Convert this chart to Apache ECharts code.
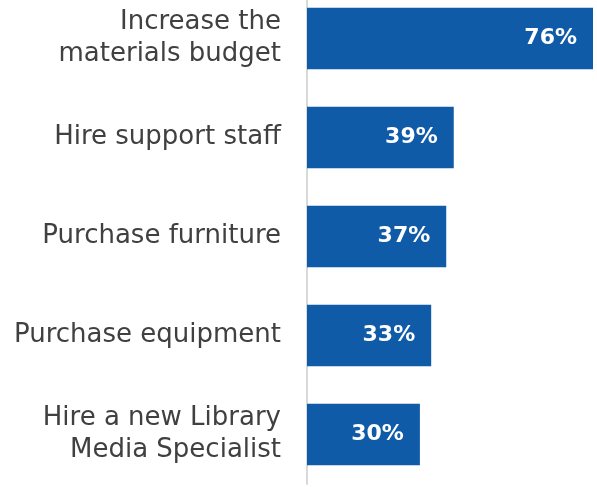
<!DOCTYPE html>
<html>
<head>
<meta charset="utf-8">
<script src="https://cdn.jsdelivr.net/npm/echarts@6/dist/echarts.min.js"></script>
<style>
  html, body { margin: 0; padding: 0; background: #fff; overflow: hidden; }
  /* the plot runs a little past the top edge, so shift the canvas up */
  #chart { position: absolute; left: 0; top: -11px; width: 597px; height: 498px; }
</style>
</head>
<body>
<div id="chart"></div>
<script>
// data
const categories = [
  'Increase the\nmaterials budget',
  'Hire support staff',
  'Purchase furniture',
  'Purchase equipment',
  'Hire a new Library\nMedia Specialist'
]
const values = [76, 39, 37, 33, 30]

const chart = echarts.init(document.getElementById('chart'))

const option = {
  animation: false,
  grid: {
    left: 307,
    right: 4,
    top: 0,
    bottom: 3
  },
  xAxis: {
    type: 'value',
    min: 0,
    max: 76,
    show: false
  },
  yAxis: {
    type: 'category',
    inverse: true,
    data: categories,
    axisLine: {
      show: true,
      lineStyle: { color: '#d9d9d9', width: 2 }
    },
    axisTick: { show: false },
    axisLabel: {
      margin: 26,
      color: '#404040',
      fontFamily: 'DejaVu Sans',
      fontSize: 26,
      lineHeight: 32,
      align: 'right'
    }
  },
  series: [{
    type: 'bar',
    data: values,
    barCategoryGap: '38%',
    itemStyle: { color: '#105ba7' },
    label: {
      show: true,
      position: 'insideRight',
      distance: 16,
      formatter: '{c}%',
      color: '#fff',
      fontFamily: 'DejaVu Sans',
      fontWeight: 'bold',
      fontSize: 22
    }
  }]
}

chart.setOption(option)
</script>
</body>
</html>
